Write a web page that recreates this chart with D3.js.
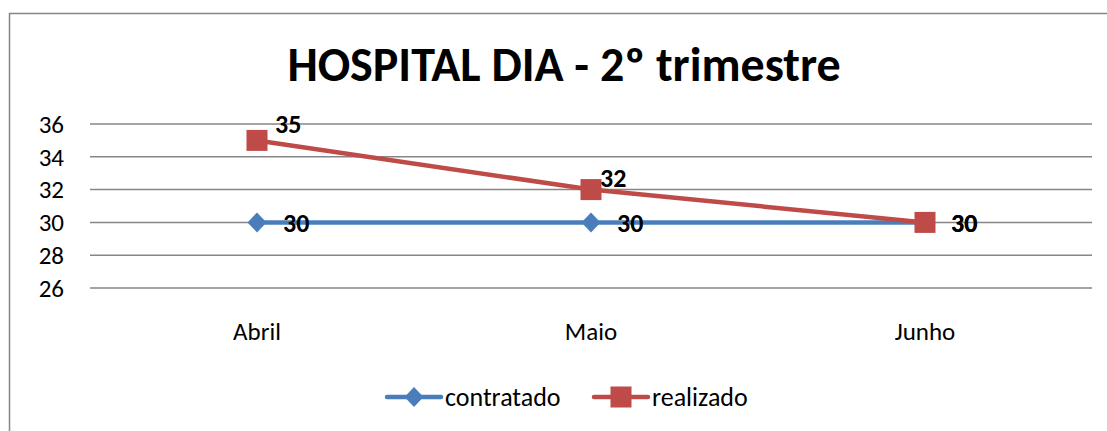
<!DOCTYPE html>
<html>
<head>
<meta charset="utf-8">
<script src="https://cdn.jsdelivr.net/npm/d3@7"></script>
<style>
    body { margin: 0; background: #fff; }
    svg { display: block; font-family: Carlito, Calibri, "Open Sans", sans-serif; }
</style>
</head>
<body>
<svg id="chart" width="1107" height="431"></svg>
<script>
const title = 'HOSPITAL DIA - 2º trimestre';
const categories = ['Abril', 'Maio', 'Junho'];
const contratado = [30, 30, 30];
const realizado = [35, 32, 30];
const yTicks = [26, 28, 30, 32, 34, 36];

const series = [
    {name: 'contratado', values: contratado, color: '#4A7EBB', marker: 'diamond'},
    {name: 'realizado', values: realizado, color: '#BE4B48', marker: 'square'}
];

const svg = d3.select('#chart');
const margin = {left: 90, right: 15, top: 124, bottom: 143};
const width = 1107 - margin.left - margin.right;
const height = 431 - margin.top - margin.bottom;

// outer chart frame
svg.append('rect')
    .attr('x', 9.5).attr('y', 13.5)
    .attr('width', 1110).attr('height', 440)
    .attr('fill', 'none')
    .attr('stroke', '#868686')
    .attr('stroke-width', 1.5);

svg.append('text')
    .attr('x', 564).attr('y', 81)
    .attr('text-anchor', 'middle')
    .style('font-size', '48px')
    .style('font-weight', 'bold')
    .text(title);

const g = svg.append('g').attr('transform', `translate(${margin.left},${margin.top})`);

const x = d3.scaleBand().domain(categories).range([0, width]);
const y = d3.scaleLinear().domain([26, 36]).range([height, 0]);
const cx = d => x(d) + x.bandwidth() / 2;

// gridlines
g.selectAll('.grid').data(yTicks).enter().append('line')
    .attr('x1', 0).attr('x2', width)
    .attr('y1', d => y(d)).attr('y2', d => y(d))
    .attr('stroke', '#868686')
    .attr('stroke-width', 1.5);

g.selectAll('.ytick').data(yTicks).enter().append('text')
    .attr('x', -26).attr('y', d => y(d))
    .attr('dy', '0.35em')
    .attr('text-anchor', 'end')
    .style('font-size', '25px')
    .text(d => d);

g.selectAll('.xtick').data(categories).enter().append('text')
    .attr('x', d => cx(d)).attr('y', height + 43)
    .attr('dy', '0.35em')
    .attr('text-anchor', 'middle')
    .style('font-size', '25px')
    .text(d => d);

const line = d3.line()
    .x((d, i) => cx(categories[i]))
    .y(d => y(d));

function drawMarker(sel, type, color, px, py) {
    if (type === 'diamond') {
        sel.append('path')
            .attr('d', `M${px},${py - 10}L${px + 9.5},${py}L${px},${py + 10}L${px - 9.5},${py}Z`)
            .attr('fill', color);
    } else {
        sel.append('rect')
            .attr('x', px - 10.5).attr('y', py - 10.5)
            .attr('width', 21).attr('height', 21)
            .attr('fill', color);
    }
}

series.forEach(s => {
    g.append('path')
        .datum(s.values)
        .attr('d', line)
        .attr('fill', 'none')
        .attr('stroke', s.color)
        .attr('stroke-width', 4.5);
});

series.forEach(s => {
    s.values.forEach((v, i) => drawMarker(g, s.marker, s.color, cx(categories[i]), y(v)));
});

// data labels
const labelOffsets = {
    contratado: [[26, 0], [26, 0], [26, 0]],
    realizado: [[18, -17], [9, -12], [26, 0]]
};
series.forEach(s => {
    s.values.forEach((v, i) => {
        const off = labelOffsets[s.name][i];
        g.append('text')
            .attr('x', cx(categories[i]) + off[0])
            .attr('y', y(v) + off[1])
            .attr('dy', '0.35em')
            .style('font-size', '26px')
            .style('font-weight', 'bold')
            .text(v);
    });
});

// legend
const legendItems = [
    {s: series[0], x: 387},
    {s: series[1], x: 594}
];
const ly = 397;
legendItems.forEach(item => {
    svg.append('line')
        .attr('x1', item.x).attr('x2', item.x + 54)
        .attr('y1', ly).attr('y2', ly)
        .attr('stroke', item.s.color)
        .attr('stroke-width', 4.5)
        .attr('stroke-linecap', 'round');
    drawMarker(svg, item.s.marker, item.s.color, item.x + 27, ly);
    svg.append('text')
        .attr('x', item.x + 58).attr('y', ly)
        .attr('dy', '0.35em')
        .style('font-size', '26px')
        .text(item.s.name);
});
</script>
</body>
</html>
